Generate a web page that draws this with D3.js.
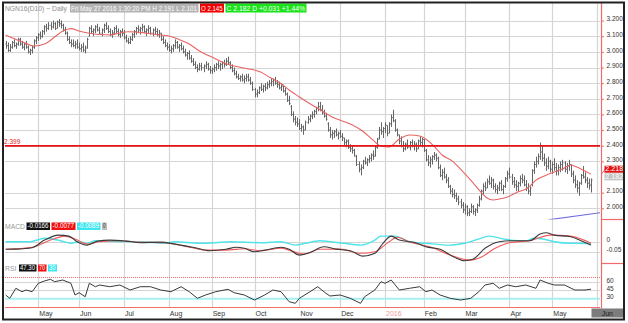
<!DOCTYPE html>
<html>
<head>
<meta charset="utf-8">
<script src="https://cdn.jsdelivr.net/npm/d3@7"></script>
<style>
  body { margin: 0; background: #fff; }
  svg { display: block; }
  text { font-family: "Liberation Sans", Arial, sans-serif; }
</style>
</head>
<body>
<svg id="chart" width="628" height="323"></svg>
<script>
// ---- data: NGN16 daily bars (trading-day index 0 = 9 Apr 2015) ----
const monthLabels = ["May","Jun","Jul","Aug","Sep","Oct","Nov","Dec","2016","Feb","Mar","Apr","May","Jun"];
const monthStarts = [16,36,58,80,101,122,144,164,186,205,225,247,268,290];

const priceTicks = [3.2,3.1,3.0,2.9,2.8,2.7,2.6,2.5,2.4,2.3,2.1,2.0];
const macdTicks = [0,-0.05];
const rsiTicks = [60,45,30];

const opens = [
3.05,3.04,3.01,3.03,3.06,3.04,3.05,3.08,3.05,3.03, 3.05,3.03,3.00,3.01,3.03,3.07,3.09,3.11,3.10,3.13,
3.16,3.15,3.17,3.16,3.18,3.15,3.19,3.18,3.17,3.14, 3.12,3.08,3.06,3.05,3.04,3.05,3.03,3.02,3.03,3.01,
3.03,3.10,3.15,3.13,3.14,3.16,3.14,3.12,3.14,3.17, 3.15,3.13,3.11,3.12,3.15,3.13,3.11,3.13,3.12,3.09,
3.07,3.06,3.08,3.11,3.13,3.15,3.14,3.15,3.16,3.13, 3.14,3.15,3.12,3.14,3.13,3.11,3.12,3.08,3.06,3.04,
3.03,3.01,3.02,3.04,3.06,3.03,3.04,3.02,3.00,2.98, 2.99,2.96,2.94,2.92,2.90,2.89,2.91,2.90,2.91,2.92,
2.89,2.88,2.89,2.90,2.92,2.91,2.92,2.93,2.92,2.94, 2.93,2.90,2.88,2.86,2.84,2.83,2.84,2.82,2.83,2.84,
2.82,2.80,2.76,2.73,2.74,2.77,2.76,2.78,2.77,2.79, 2.80,2.81,2.82,2.80,2.79,2.77,2.78,2.75,2.73,2.69,
2.65,2.60,2.57,2.55,2.54,2.51,2.52,2.50,2.55,2.57, 2.59,2.60,2.62,2.64,2.65,2.63,2.61,2.59,2.54,2.50,
2.47,2.48,2.49,2.47,2.48,2.46,2.45,2.42,2.43,2.39, 2.38,2.37,2.33,2.28,2.25,2.26,2.30,2.29,2.31,2.32,
2.34,2.34,2.39,2.45,2.50,2.49,2.51,2.53,2.48,2.54, 2.58,2.56,2.50,2.47,2.43,2.40,2.38,2.41,2.39,2.42,
2.40,2.41,2.38,2.43,2.42,2.44,2.37,2.31,2.29,2.31, 2.33,2.34,2.32,2.26,2.21,2.23,2.20,2.18,2.14,2.11,
2.09,2.08,2.06,2.04,2.02,1.99,2.01,1.97,1.98,2.01, 1.98,1.99,2.02,2.06,2.11,2.14,2.13,2.17,2.16,2.18,
2.14,2.12,2.13,2.16,2.12,2.14,2.19,2.22,2.20,2.17, 2.15,2.14,2.16,2.19,2.18,2.15,2.13,2.11,2.15,2.24,
2.28,2.30,2.33,2.36,2.32,2.29,2.27,2.30,2.25,2.28, 2.26,2.24,2.26,2.28,2.29,2.25,2.27,2.28,2.22,2.18,
2.15,2.13,2.16,2.21,2.20,2.18,2.16,2.145];

const highs = [
3.07,3.06,3.05,3.07,3.08,3.06,3.09,3.09,3.07,3.06, 3.07,3.04,3.02,3.04,3.08,3.10,3.12,3.13,3.14,3.17,
3.18,3.19,3.19,3.20,3.19,3.20,3.21,3.20,3.18,3.16, 3.13,3.10,3.08,3.08,3.07,3.08,3.06,3.05,3.06,3.04,
3.09,3.16,3.17,3.15,3.17,3.18,3.16,3.15,3.18,3.19, 3.17,3.15,3.14,3.16,3.17,3.15,3.14,3.15,3.14,3.11,
3.09,3.10,3.12,3.14,3.16,3.17,3.16,3.18,3.17,3.15, 3.17,3.16,3.15,3.16,3.15,3.14,3.12,3.10,3.08,3.06,
3.05,3.04,3.05,3.08,3.07,3.05,3.06,3.04,3.02,3.00, 3.01,2.98,2.96,2.94,2.92,2.93,2.93,2.92,2.94,2.93,
2.91,2.90,2.92,2.93,2.94,2.93,2.94,2.95,2.96,2.97, 2.94,2.92,2.90,2.88,2.86,2.85,2.86,2.85,2.86,2.86,
2.84,2.81,2.77,2.76,2.78,2.80,2.79,2.80,2.81,2.82, 2.83,2.83,2.84,2.82,2.81,2.80,2.79,2.77,2.74,2.72,
2.66,2.62,2.59,2.58,2.57,2.54,2.53,2.56,2.59,2.60, 2.62,2.63,2.65,2.68,2.68,2.66,2.63,2.61,2.55,2.52,
2.50,2.50,2.51,2.49,2.50,2.48,2.45,2.44,2.44,2.41, 2.40,2.38,2.34,2.30,2.28,2.31,2.33,2.32,2.34,2.35,
2.37,2.40,2.45,2.52,2.55,2.52,2.55,2.53,2.55,2.60, 2.63,2.57,2.51,2.47,2.46,2.43,2.42,2.44,2.43,2.44,
2.43,2.42,2.44,2.46,2.45,2.44,2.38,2.34,2.33,2.34, 2.36,2.35,2.33,2.28,2.25,2.26,2.22,2.20,2.15,2.13,
2.12,2.10,2.08,2.06,2.04,2.03,2.02,2.00,2.03,2.02, 2.00,2.03,2.08,2.12,2.16,2.17,2.19,2.21,2.20,2.19,
2.16,2.15,2.17,2.18,2.15,2.20,2.24,2.26,2.22,2.20, 2.18,2.17,2.21,2.22,2.21,2.18,2.16,2.14,2.25,2.30,
2.33,2.35,2.42,2.40,2.35,2.32,2.33,2.31,2.30,2.32, 2.29,2.28,2.30,2.31,2.30,2.29,2.31,2.28,2.24,2.21,
2.18,2.17,2.22,2.27,2.23,2.20,2.19,2.191];

const lows = [
3.02,3.00,3.00,3.02,3.03,3.02,3.04,3.04,3.02,3.01, 3.02,2.99,2.98,2.99,3.02,3.05,3.07,3.08,3.09,3.11,
3.13,3.14,3.14,3.15,3.14,3.15,3.16,3.15,3.13,3.11, 3.07,3.05,3.03,3.03,3.02,3.02,3.01,3.00,3.00,2.99,
3.02,3.10,3.12,3.10,3.12,3.13,3.11,3.10,3.12,3.14, 3.12,3.10,3.09,3.11,3.12,3.10,3.09,3.10,3.08,3.06,
3.05,3.05,3.07,3.09,3.11,3.12,3.11,3.13,3.12,3.10, 3.12,3.11,3.10,3.11,3.10,3.09,3.07,3.05,3.03,3.01,
3.00,2.99,3.00,3.02,3.02,3.00,3.01,2.99,2.97,2.95, 2.95,2.93,2.91,2.89,2.87,2.88,2.88,2.87,2.89,2.88,
2.86,2.86,2.87,2.88,2.89,2.88,2.89,2.90,2.91,2.92, 2.89,2.87,2.85,2.83,2.82,2.81,2.81,2.80,2.81,2.81,
2.79,2.75,2.71,2.71,2.73,2.75,2.74,2.75,2.76,2.77, 2.78,2.78,2.79,2.77,2.76,2.75,2.74,2.72,2.68,2.66,
2.59,2.55,2.53,2.52,2.50,2.49,2.47,2.50,2.54,2.55, 2.57,2.58,2.60,2.62,2.62,2.60,2.58,2.56,2.49,2.45,
2.44,2.45,2.46,2.44,2.45,2.43,2.40,2.39,2.38,2.36, 2.35,2.33,2.27,2.23,2.21,2.25,2.28,2.27,2.29,2.30,
2.31,2.33,2.38,2.44,2.47,2.45,2.48,2.46,2.48,2.52, 2.55,2.49,2.46,2.41,2.39,2.36,2.37,2.38,2.37,2.39,
2.37,2.36,2.38,2.40,2.39,2.36,2.30,2.27,2.26,2.28, 2.31,2.30,2.25,2.20,2.18,2.19,2.16,2.13,2.09,2.07,
2.06,2.04,2.02,2.00,1.97,1.96,1.95,1.95,1.97,1.96, 1.95,1.97,2.01,2.05,2.09,2.11,2.13,2.15,2.13,2.12,
2.10,2.09,2.11,2.11,2.09,2.13,2.17,2.19,2.15,2.13, 2.11,2.11,2.14,2.16,2.14,2.11,2.09,2.08,2.14,2.22,
2.26,2.28,2.31,2.30,2.27,2.24,2.25,2.23,2.22,2.24, 2.21,2.21,2.23,2.24,2.23,2.22,2.24,2.20,2.16,2.13,
2.10,2.08,2.15,2.19,2.16,2.13,2.12,2.101];

const closes = [
3.04,3.01,3.03,3.06,3.04,3.05,3.08,3.05,3.03,3.05, 3.03,3.00,3.01,3.03,3.07,3.09,3.11,3.10,3.13,3.16,
3.15,3.17,3.16,3.18,3.15,3.19,3.18,3.17,3.14,3.12, 3.08,3.06,3.05,3.04,3.05,3.03,3.02,3.03,3.01,3.02,
3.08,3.15,3.13,3.14,3.16,3.14,3.12,3.14,3.17,3.15, 3.13,3.11,3.12,3.15,3.13,3.11,3.13,3.12,3.09,3.07,
3.06,3.08,3.11,3.13,3.15,3.14,3.15,3.16,3.13,3.14, 3.15,3.12,3.14,3.13,3.11,3.12,3.08,3.06,3.04,3.03,
3.01,3.02,3.04,3.06,3.03,3.04,3.02,3.00,2.98,2.99, 2.96,2.94,2.92,2.90,2.89,2.91,2.90,2.91,2.92,2.89,
2.88,2.89,2.90,2.92,2.91,2.92,2.93,2.92,2.94,2.93, 2.90,2.88,2.86,2.84,2.83,2.84,2.82,2.83,2.84,2.82,
2.80,2.76,2.73,2.74,2.77,2.76,2.78,2.77,2.79,2.80, 2.81,2.82,2.80,2.79,2.77,2.78,2.75,2.73,2.69,2.67,
2.60,2.57,2.55,2.54,2.51,2.52,2.50,2.55,2.57,2.59, 2.60,2.62,2.64,2.65,2.63,2.61,2.59,2.57,2.50,2.47,
2.48,2.49,2.47,2.48,2.46,2.45,2.42,2.43,2.39,2.38, 2.37,2.34,2.28,2.25,2.26,2.30,2.29,2.31,2.32,2.34,
2.33,2.39,2.44,2.50,2.49,2.51,2.53,2.48,2.54,2.58, 2.56,2.50,2.47,2.43,2.40,2.38,2.41,2.39,2.42,2.40,
2.41,2.38,2.43,2.42,2.44,2.37,2.31,2.29,2.31,2.33, 2.34,2.32,2.26,2.21,2.23,2.20,2.18,2.14,2.11,2.09,
2.08,2.06,2.04,2.02,1.99,2.01,1.97,1.98,2.01,1.98, 1.99,2.02,2.06,2.11,2.14,2.13,2.17,2.16,2.18,2.14,
2.12,2.13,2.16,2.12,2.14,2.19,2.22,2.20,2.17,2.15, 2.14,2.16,2.19,2.18,2.15,2.13,2.11,2.13,2.24,2.28,
2.30,2.33,2.36,2.32,2.29,2.27,2.30,2.25,2.28,2.26, 2.24,2.26,2.28,2.29,2.25,2.27,2.28,2.22,2.18,2.15,
2.13,2.16,2.21,2.20,2.18,2.16,2.15,2.182];

// 20-day moving average
const maIdx = [0,7,14,19,24,28,32,36,41,46,51,56,60,63,67,72,76,81,85,90,95,102,110,118,125,130,135,139,144,151,
  156,160,165,170,175,180,184,188,193,198,203,210,214,219,223,228,233,236,239,242,246,251,255,257,260,265,269,273,277,280,283,287];
const maVal = [3.108,3.070,3.038,3.050,3.095,3.133,3.149,3.133,3.119,3.111,3.108,3.121,3.129,3.127,3.123,3.114,3.108,3.098,3.079,3.050,
  3.006,2.961,2.916,2.894,2.871,2.833,2.798,2.756,2.712,2.654,2.616,2.584,2.558,2.533,2.494,2.437,2.398,2.392,2.443,2.469,
  2.462,2.398,2.341,2.302,2.251,2.180,2.104,2.066,2.053,2.059,2.072,2.104,2.123,2.142,2.180,2.212,2.232,2.251,2.277,2.264,2.245,2.218];

const resistance = 2.399;
const trendIdx = [266, 291.5];
const trendVal = [1.926, 1.972];

// MACD (black), signal (red), difference (cyan)
const macdIdx = [0,5,13,19,26,31,35,40,45,51,59,66,76,83,93,100,108,113,117,122,127,135,139,144,149,156,162,169,175,181,
  185,189,193,201,206,213,220,225,229,235,242,250,257,262,265,269,277,282,287];
const macdVal = [-0.038,-0.037,-0.030,0.008,0.033,0.028,0.000,-0.017,0.003,0.008,0.003,-0.005,-0.002,-0.012,-0.030,-0.045,-0.038,-0.028,-0.033,-0.050,
  -0.042,-0.028,-0.038,-0.067,-0.055,-0.025,-0.037,-0.045,-0.072,-0.058,-0.008,0.028,0.008,-0.005,-0.025,-0.038,-0.078,-0.095,-0.088,-0.033,
  0.000,0.005,0.005,0.038,0.045,0.033,0.025,0.005,-0.0166];
const signalIdx = [0,13,22,29,34,40,46,56,66,78,88,98,108,117,125,135,139,146,154,164,174,181,188,192,198,208,218,228,233,240,247,257,267,277,287];
const signalVal = [-0.038,-0.028,0.008,0.028,0.013,-0.012,0.000,0.005,-0.002,-0.005,-0.022,-0.042,-0.042,-0.035,-0.045,-0.033,-0.042,-0.062,-0.038,-0.037,
  -0.058,-0.050,0.000,0.022,-0.002,-0.025,-0.067,-0.092,-0.078,-0.033,-0.005,0.005,0.033,0.028,-0.0077];
const diffIdx = [0,12,19,27,32,36,40,44,51,66,78,83,95,103,110,125,135,142,147,154,159,166,174,181,184,191,198,206,218,225,233,237,245,255,259,264,269,277,287];
const diffVal = [0.000,0.000,0.017,0.005,-0.008,0.000,-0.007,0.005,0.002,0.000,-0.008,0.000,-0.008,-0.005,0.000,-0.005,0.000,-0.017,-0.008,0.005,
  0.000,-0.008,-0.017,0.008,0.028,0.028,0.000,-0.008,-0.017,-0.008,0.017,0.028,0.012,0.003,0.017,0.012,0.000,-0.008,-0.0089];

// RSI
const rsiIdx = [0,2,5,8,10,13,16,19,22,24,28,32,34,36,39,41,44,46,51,56,61,66,71,76,81,86,90,94,98,103,109,112,117,122,127,131,135,139,142,144,
  149,153,157,159,164,169,174,176,181,184,186,189,193,198,203,206,209,213,218,223,228,232,235,239,242,246,250,255,260,262,266,269,274,279,284,287];
const rsiVal = [36.7,30.7,48.9,42.7,45.8,42.7,58.0,62.2,65.3,60.9,64.0,58.0,36.7,40.9,33.6,58.0,51.8,54.9,51.8,54.9,45.8,51.8,51.8,45.8,42.7,51.8,42.7,30.7,36.7,42.7,
  47.1,40.9,36.7,27.6,36.7,45.8,42.7,24.5,21.6,30.7,42.2,51.8,39.8,34.9,36.7,30.7,21.6,33.6,45.8,60.9,58.0,64.0,45.8,48.9,51.8,42.7,45.8,36.7,30.7,27.6,
  30.7,42.7,54.9,58.0,48.9,54.9,51.8,54.9,48.9,64.0,58.0,54.9,54.9,45.8,45.8,47.3];
const rsiUpper = 70, rsiLower = 30;

// ---- layout ----
const plotL = 5, plotR = 600, axisX = 601.5, frameR = 624;
const priceTop = 3, priceBot = 219.5, macdBot = 263.5, rsiBot = 307.5;

const svg = d3.select("#chart");
const x = d3.scaleLinear().domain([0, 290]).range([5.66, 597.17]);
const yP = d3.scaleLinear().domain([2.0, 3.2]).range([208.3, 20.6]);
const yM = d3.scaleLinear().domain([-0.05, 0]).range([251.7, 241.7]);
const yR = d3.scaleLinear().domain([30, 70]).range([298.7, 276.7]);
const px = v => Math.round(v) + 0.5;

const defs = svg.append("defs");
function addClip(id, y0, y1) {
  defs.append("clipPath").attr("id", id).append("rect")
    .attr("x", plotL).attr("y", y0).attr("width", plotR - plotL).attr("height", y1 - y0);
}
addClip("cp-price", priceTop, priceBot);
addClip("cp-macd", priceBot, macdBot);
addClip("cp-rsi", macdBot, rsiBot);

const gridColor = "#d5d5d5";

// month grid
svg.append("g").selectAll("line").data(monthStarts).join("line")
  .attr("x1", d => px(x(d))).attr("x2", d => px(x(d)))
  .attr("y1", priceTop).attr("y2", rsiBot)
  .attr("stroke", gridColor).attr("stroke-width", 1.2);

// price grid
svg.append("g").selectAll("line").data(priceTicks).join("line")
  .attr("x1", plotL).attr("x2", plotR)
  .attr("y1", d => px(yP(d))).attr("y2", d => px(yP(d)))
  .attr("stroke", gridColor).attr("stroke-width", 1.2);

// MACD grid
svg.append("g").selectAll("line").data(macdTicks).join("line")
  .attr("x1", plotL).attr("x2", plotR)
  .attr("y1", d => px(yM(d))).attr("y2", d => px(yM(d)))
  .attr("stroke", gridColor).attr("stroke-width", 1.2);

// RSI grid and levels
svg.append("g").selectAll("line").data(rsiTicks.filter(d => d !== rsiLower)).join("line")
  .attr("x1", plotL).attr("x2", plotR)
  .attr("y1", d => px(yR(d))).attr("y2", d => px(yR(d)))
  .attr("stroke", gridColor).attr("stroke-width", 1.2);
svg.append("line").attr("x1", plotL).attr("x2", plotR)
  .attr("y1", yR(rsiLower)).attr("y2", yR(rsiLower))
  .attr("stroke", "#a6f0f0").attr("stroke-width", 2);
svg.append("line").attr("x1", plotL).attr("x2", plotR)
  .attr("y1", px(yR(rsiUpper))).attr("y2", px(yR(rsiUpper)))
  .attr("stroke", "#f07070").attr("stroke-width", 1).attr("stroke-dasharray", "1,1");
svg.append("line").attr("x1", plotL).attr("x2", plotR)
  .attr("y1", rsiBot).attr("y2", rsiBot)
  .attr("stroke", "#f07070").attr("stroke-width", 1);

// ---- price panel ----
const gPrice = svg.append("g").attr("clip-path", "url(#cp-price)");

const bars = closes.map((c, i) => ({ i, o: opens[i], h: highs[i], l: lows[i], c }));
gPrice.append("path")
  .attr("d", bars.map(b => {
    const cx = px(x(b.i));
    return `M${cx},${yP(b.h)}V${yP(b.l)}M${cx - 1},${yP(b.o)}H${cx}M${cx},${yP(b.c)}H${cx + 1}`;
  }).join(""))
  .attr("stroke", "#656565").attr("stroke-width", 1).attr("fill", "none");

gPrice.append("path")
  .datum(maIdx.map((d, k) => [d, maVal[k]]))
  .attr("d", d3.line().x(d => x(d[0])).y(d => yP(d[1])).curve(d3.curveMonotoneX))
  .attr("fill", "none").attr("stroke", "#e86464").attr("stroke-width", 1.1);

gPrice.append("line")
  .attr("x1", plotL).attr("x2", plotR)
  .attr("y1", yP(resistance)).attr("y2", yP(resistance))
  .attr("stroke", "#e51515").attr("stroke-width", 1.6);
svg.append("text").attr("x", 4).attr("y", yP(resistance) - 2)
  .attr("font-size", 6.5).attr("fill", "#e51515").text(resistance.toFixed(3));

gPrice.append("path")
  .datum(trendIdx.map((d, k) => [d, trendVal[k]]))
  .attr("d", d3.line().x(d => x(d[0])).y(d => yP(d[1])))
  .attr("stroke", "#6d6de0").attr("stroke-width", 1.1).attr("fill", "none");

// ---- MACD panel ----
const gMacd = svg.append("g").attr("clip-path", "url(#cp-macd)");
const lineM = d3.line().x(d => x(d[0])).y(d => yM(d[1])).curve(d3.curveMonotoneX);
[[diffIdx, diffVal, "#4fe3ea", 1.4], [signalIdx, signalVal, "#f25a5a", 1.1], [macdIdx, macdVal, "#3a3a3a", 1.1]]
  .forEach(([idx, val, col, w]) => {
    gMacd.append("path").datum(idx.map((d, k) => [d, val[k]]))
      .attr("d", lineM).attr("fill", "none").attr("stroke", col).attr("stroke-width", w);
  });

// ---- RSI panel ----
const gRsi = svg.append("g").attr("clip-path", "url(#cp-rsi)");
gRsi.append("path").datum(rsiIdx.map((d, k) => [d, rsiVal[k]]))
  .attr("d", d3.line().x(d => x(d[0])).y(d => yR(d[1])))
  .attr("fill", "none").attr("stroke", "#3a3a3a").attr("stroke-width", 1);

// ---- right axes ----
const axisRed = "#f06a6a";
svg.append("line").attr("x1", axisX).attr("x2", axisX).attr("y1", priceTop).attr("y2", rsiBot + 1)
  .attr("stroke", axisRed).attr("stroke-width", 1.2);
[priceBot, macdBot].forEach(yy => {
  svg.append("line").attr("x1", axisX).attr("x2", frameR).attr("y1", yy).attr("y2", yy)
    .attr("stroke", axisRed).attr("stroke-width", 1.2);
});

function styleAxis(g) {
  g.attr("font-family", null).attr("font-size", null);
  g.select(".domain").remove();
  g.selectAll(".tick line").attr("stroke", axisRed);
  g.selectAll(".tick text").attr("font-size", 6.5).attr("fill", "#333").attr("y", -1.8);
}
svg.append("g").attr("transform", `translate(${axisX},0)`)
  .call(d3.axisRight(yP).tickValues(priceTicks).tickFormat(d => d.toFixed(3)).tickSize(2.5).tickPadding(2.5))
  .call(styleAxis);
svg.append("g").attr("transform", `translate(${axisX},0)`)
  .call(d3.axisRight(yM).tickValues(macdTicks).tickFormat(d => d === 0 ? "0" : d.toFixed(2)).tickSize(0).tickPadding(5))
  .call(styleAxis);
svg.append("g").attr("transform", `translate(${axisX},0)`)
  .call(d3.axisRight(yR).tickValues(rsiTicks).tickFormat(d => String(d)).tickSize(0).tickPadding(5))
  .call(styleAxis);

// last-value tags
const lastMa = maVal[maVal.length - 1];
const lastClose = closes[closes.length - 1];
const tagMaY = yP(lastMa) - 8.5, tagCloseY = yP(lastClose) - 6.5;
svg.append("line").attr("x1", axisX).attr("y1", yP(lastMa)).attr("x2", 605).attr("y2", tagMaY + 3.5)
  .attr("stroke", "#e86464").attr("stroke-width", 1);
function tag(yTop, fill, txt) {
  svg.append("rect").attr("x", 604.5).attr("y", yTop).attr("width", 19.5).attr("height", 7).attr("fill", fill);
  svg.append("text").attr("x", 605.3).attr("y", yTop + 5.6).attr("font-size", 6.3).attr("fill", "#fff")
    .attr("textLength", 17.8).attr("lengthAdjust", "spacingAndGlyphs").text(txt);
}
tag(tagMaY, "#e01010", lastMa.toFixed(3));
tag(tagCloseY, "#c4c4c4", lastClose.toFixed(3));

// ---- bottom axis ----
const lastTick = monthStarts[monthStarts.length - 1];
svg.append("rect").attr("x", px(x(lastTick)) - 6).attr("y", 308.5).attr("width", 32).attr("height", 9)
  .attr("fill", "#7c7c7c");
const gx = svg.append("g").attr("transform", `translate(0,${rsiBot})`)
  .call(d3.axisBottom(x).tickValues(monthStarts).tickFormat((d, k) => monthLabels[k]).tickSize(0).tickPadding(0));
gx.attr("font-family", null).attr("font-size", null);
gx.select(".domain").remove();
gx.selectAll(".tick text")
  .attr("text-anchor", "start").attr("x", 0.5).attr("y", 3.3).attr("font-size", 7)
  .attr("fill", (d, k) => monthLabels[k] === "2016" ? "#f29a9a" : (d === lastTick ? "#1e1e1e" : "#333"));
gx.selectAll(".tick").filter(d => d === lastTick).select("text").attr("x", 4);

// ---- header and legends ----
function box(x0, y0, w, h, fill, txt, color, fs) {
  svg.append("rect").attr("x", x0).attr("y", y0).attr("width", w).attr("height", h).attr("fill", fill);
  svg.append("text").attr("x", x0 + 1).attr("y", y0 + h - 1.6).attr("font-size", fs).attr("fill", color)
    .attr("textLength", Math.max(1, w - 2.5)).attr("lengthAdjust", "spacingAndGlyphs").text(txt);
}
svg.append("text").attr("x", 5).attr("y", 11).attr("font-size", 7).attr("fill", "#8c8c8c")
  .attr("textLength", 62).attr("lengthAdjust", "spacingAndGlyphs").text("NGN16(D10) ~ Daily");
box(70, 3.5, 128.5, 9, "#b3b3b3", "Fri May 27 2016 1:30:20 PM  H 2.191  L 2.101", "#fff", 6.6);
box(200, 3.5, 24, 9, "#f20000", "O 2.145", "#fff", 6.6);
box(225.5, 3.5, 81, 9, "#19e319", "C 2.182  D +0.031  +1.44%", "#fff", 6.6);

svg.append("text").attr("x", 5).attr("y", 229).attr("font-size", 6.8).attr("fill", "#9a9a9a").text("MACD");
box(26.5, 222.5, 23.5, 7.5, "#111", macdVal[macdVal.length - 1].toFixed(4), "#fff", 6.3);
box(51.5, 222.5, 24, 7.5, "#f01010", signalVal[signalVal.length - 1].toFixed(4), "#fff", 6.3);
box(77, 222.5, 23.5, 7.5, "#3ce6ee", diffVal[diffVal.length - 1].toFixed(4), "#fff", 6.3);
box(102, 222.5, 5, 7.5, "#bdbdbd", "0", "#333", 6.3);

svg.append("text").attr("x", 5).attr("y", 270.5).attr("font-size", 6.8).attr("fill", "#9a9a9a").text("RSI");
box(19, 264.5, 17.5, 7, "#111", rsiVal[rsiVal.length - 1].toFixed(2), "#fff", 6.3);
box(38, 264.5, 8.5, 7, "#f01010", String(rsiUpper), "#fff", 6.3);
box(48, 264.5, 9, 7, "#3ce6ee", String(rsiLower), "#fff", 6.3);

// outer frame
svg.append("rect").attr("x", 3).attr("y", 2.5).attr("width", 621).attr("height", 317)
  .attr("fill", "none").attr("stroke", "#222").attr("stroke-width", 2);
</script>
</body>
</html>
